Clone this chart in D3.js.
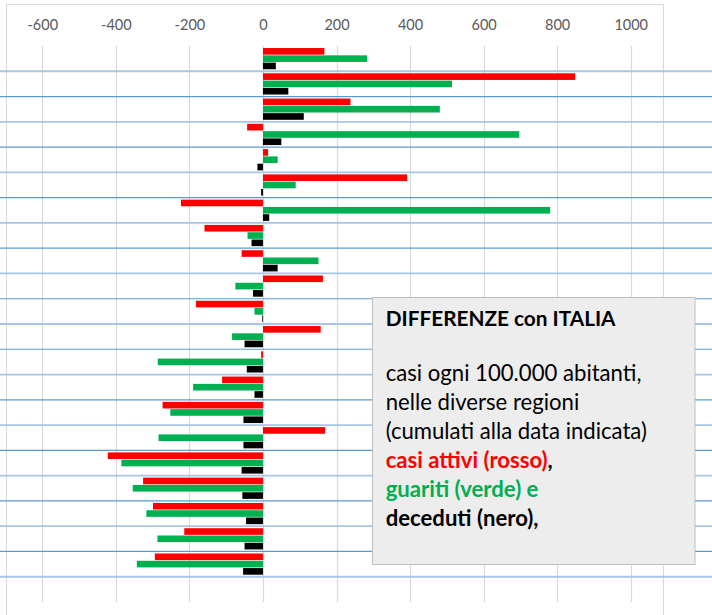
<!DOCTYPE html>
<html>
<head>
<meta charset="utf-8">
<script src="https://cdn.jsdelivr.net/npm/d3@7"></script>
<style>
  html, body { margin: 0; padding: 0; background: #ffffff; }
  svg { display: block; }
</style>
</head>
<body>
<svg id="chart" width="712" height="615"></svg>
<script>
// ---- DATA ----
const categories = ["R01","R02","R03","R04","R05","R06","R07","R08","R09","R10","R11",
                    "R12","R13","R14","R15","R16","R17","R18","R19","R20","R21","ITALIA"];
const seriesNames = ["casi attivi", "guariti", "deceduti"];
const attivi   = [167, 849, 238, -43, 14, 392, -223, -159, -58, 163, -182, 157, -5, -111, -273, 169, -422, -326, -299, -214, -294, 0];
const guariti  = [283, 514, 481, 697, 40, 89, 781, -42, 151, -75, -23, -84, -286, -190, -252, -284, -385, -354, -317, -287, -343, 0];
const deceduti = [35, 69, 111, 50, -15, -5, 17, -31, 40, -27, -2, -50, -44, -23, -53, -53, -58, -56, -46, -50, -54, 0];
const tickValues = [-600, -400, -200, 0, 200, 400, 600, 800, 1000];
const tickLabels = ["-600", "-400", "-200", "0", "200", "400", "600", "800", "1000"];
const seriesColors = ["#ff0000", "#00b050", "#000000"];

const titleText = "DIFFERENZE con ITALIA";
const bodyLines = [
  {t: "casi ogni 100.000 abitanti,", c: "#000000", w: "normal"},
  {t: "nelle diverse regioni", c: "#000000", w: "normal"},
  {t: "(cumulati alla data indicata)", c: "#000000", w: "normal"},
  {t: "casi attivi (rosso)", c: "#ff0000", w: "bold", tail: ","},
  {t: "guariti (verde) e", c: "#00b050", w: "bold"},
  {t: "deceduti (nero),", c: "#000000", w: "bold"}
];

// ---- DRAW ----
const svg = d3.select("#chart");
const FONT = "Lato, 'Open Sans', 'DejaVu Sans', sans-serif";

const x = d3.scaleLinear().domain([-600, 1000]).range([42.3, 630.7]);
const y = d3.scaleBand().domain(categories).range([46, 602]).paddingInner(0.16).paddingOuter(0.08);
const ySub = d3.scaleBand().domain(seriesNames).range([0, y.bandwidth()]).paddingInner(0.09);

// chart area border
svg.append("rect").attr("x", 6.5).attr("y", 4.5).attr("width", 657).attr("height", 620)
  .attr("fill", "#ffffff").attr("stroke", "#d9d9d9").attr("stroke-width", 1);

// gridlines
svg.append("g").selectAll("line").data(tickValues).join("line")
  .attr("x1", d => Math.round(x(d)) + 0.5).attr("x2", d => Math.round(x(d)) + 0.5)
  .attr("y1", 46).attr("y2", 602)
  .attr("stroke", "#d9d9d9").attr("stroke-width", 1.2);

// axis on top
const axis = d3.axisTop(x).tickValues(tickValues).tickSize(0).tickPadding(0)
  .tickFormat((d, i) => tickLabels[i]);
const gAxis = svg.append("g").attr("transform", "translate(0,30)").call(axis);
gAxis.select(".domain").remove();
gAxis.selectAll("text").attr("font-family", FONT).attr("font-size", "14.5px")
  .attr("fill", "#595959").attr("dy", 0).attr("y", 0);

// bars
const rows = categories.map((c, i) => ({cat: c, vals: [attivi[i], guariti[i], deceduti[i]]}));
const gRows = svg.append("g").selectAll("g").data(rows).join("g")
  .attr("transform", d => `translate(0,${y(d.cat)})`);
gRows.selectAll("rect").data(d => d.vals.map((v, j) => ({v, s: seriesNames[j], j})))
  .join("rect")
  .attr("x", d => x(Math.min(0, d.v)))
  .attr("width", d => Math.abs(x(d.v) - x(0)))
  .attr("y", d => ySub(d.s))
  .attr("height", ySub.bandwidth())
  .attr("fill", d => seriesColors[d.j]);

// spreadsheet row lines (band boundaries)
const boundaries = categories.slice(1).map(c => y(c) - y.step() * y.paddingInner() / 2);
svg.append("g").selectAll("line").data(boundaries).join("line")
  .attr("x1", 0).attr("x2", 712)
  .attr("y1", d => d).attr("y2", d => d)
  .attr("stroke", (d, i) => i % 2 === 0 ? "#a6c6e8" : "#5b9bd5")
  .attr("stroke-width", (d, i) => i % 2 === 0 ? 1.8 : 1.2);

// text box
svg.append("rect").attr("x", 372.5).attr("y", 297.5).attr("width", 322.5).attr("height", 267)
  .attr("fill", "#ededed").attr("stroke", "#bfbfbf").attr("stroke-width", 1);

function fitSize(text, weight, target, base) {
  const t = svg.append("text").attr("font-family", FONT).attr("font-weight", weight)
    .attr("font-size", base + "px").text(text);
  const w = t.node().getComputedTextLength();
  t.remove();
  return base * target / w;
}
const titleSize = fitSize(titleText, "bold", 230, 18);
const bodySize = fitSize(bodyLines[0].t, "normal", 256, 18);

svg.append("text").attr("x", 385.7).attr("y", 326)
  .attr("font-family", FONT).attr("font-weight", "bold").attr("font-size", titleSize + "px")
  .attr("fill", "#000000").text(titleText);

const tb = svg.append("g");
bodyLines.forEach((l, i) => {
  const t = tb.append("text").attr("x", 385.7).attr("y", 380.6 + i * 29.1)
    .attr("font-family", FONT).attr("font-size", bodySize + "px");
  t.append("tspan").attr("fill", l.c).attr("font-weight", l.w).text(l.t);
  if (l.tail) t.append("tspan").attr("fill", "#000000").attr("font-weight", "bold").text(l.tail);
});
</script>
</body>
</html>
